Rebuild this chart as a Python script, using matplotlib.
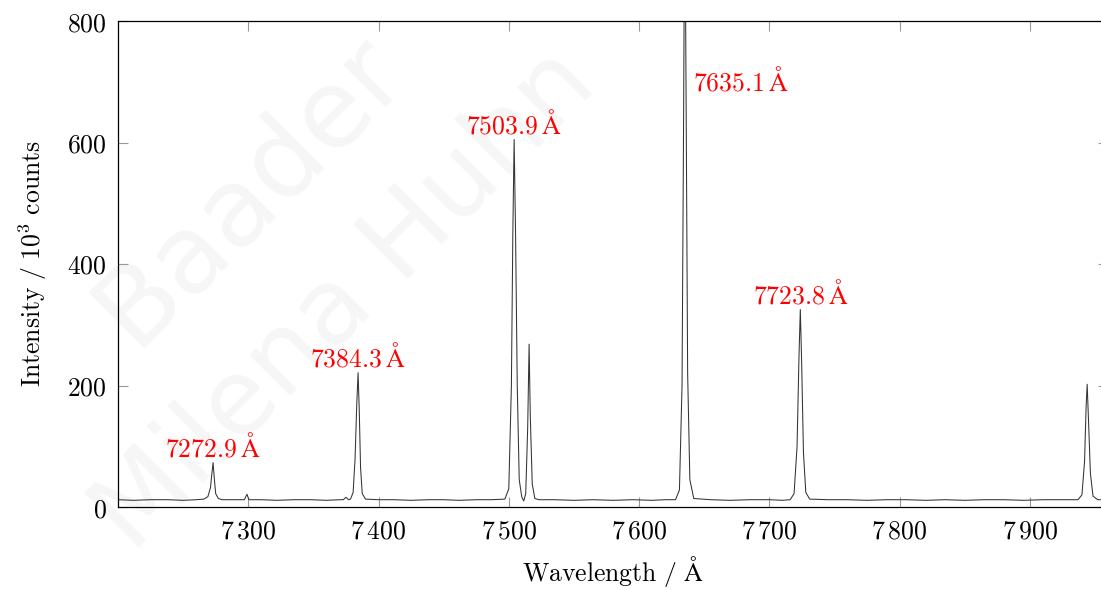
import matplotlib
matplotlib.use("Agg")
import matplotlib.pyplot as plt
from matplotlib.ticker import FuncFormatter

plt.rcParams['mathtext.fontset'] = 'cm'
plt.rcParams['font.family'] = ['DejaVu Sans']

# spectrum: wavelength in Angstrom, intensity in 10^3 counts
wavelength = [
    7200, 7212, 7225, 7238, 7250, 7260, 7266, 7269, 7271, 7272.3, 7273, 7274, 7275, 7277, 7280,
    7288, 7297, 7299, 7300.5, 7310, 7322, 7335, 7348, 7360, 7370, 7373, 7375, 7377,
    7378.5, 7380.5, 7382, 7383.3, 7384.3, 7385.2, 7386.2, 7387.5, 7390,
    7400, 7412, 7425, 7438, 7450, 7462, 7475, 7487,
    7497, 7500, 7502, 7503.1, 7504.1, 7505.2, 7506.5, 7508, 7510, 7511.5,
    7513, 7514.5, 7515.6, 7516.5, 7518, 7520, 7523,
    7535, 7550, 7565, 7580, 7595, 7610, 7620, 7628,
    7631, 7633, 7634.2, 7635.1, 7636.1, 7637.3, 7639, 7642,
    7655, 7670, 7685, 7700, 7710, 7716,
    7719, 7721.3, 7722.8, 7723.8, 7724.8, 7726.2, 7728, 7731,
    7745, 7760, 7775, 7790, 7805, 7820, 7835, 7850, 7865, 7880, 7895, 7910, 7925, 7937,
    7940, 7942, 7943.2, 7944, 7945, 7946.5, 7948.5, 7952, 7960,
]
intensity = [
    12, 11, 12, 12, 11, 12, 13, 17, 32, 60, 73, 45, 22, 14, 12,
    12, 12, 21, 12, 12, 11, 12, 12, 11, 12, 12, 16, 12,
    13, 24, 80, 170, 221, 160, 65, 22, 13,
    12, 12, 11, 12, 12, 11, 12, 12,
    13, 30, 200, 450, 605, 450, 200, 45, 16, 10,
    22, 130, 268, 150, 38, 14, 12,
    12, 11, 12, 11, 12, 11, 12, 12,
    28, 200, 640, 1050, 680, 220, 45, 14,
    12, 11, 12, 12, 11, 12,
    22, 100, 250, 325, 240, 90, 24, 13,
    12, 12, 11, 12, 12, 11, 12, 11, 12, 12, 11, 12, 12, 12,
    20, 75, 165, 202, 145, 55, 18, 12, 12,
]

line_wl = [7272.9, 7384.3, 7503.9, 7635.1, 7723.8]
line_int = [73, 221, 605, 700, 325]
line_labels = ["7272.9", "7384.3", "7503.9", "7635.1", "7723.8"]

xticks = [7300, 7400, 7500, 7600, 7700, 7800, 7900]
yticks = [0, 200, 400, 600, 800]

fig = plt.figure(figsize=(11.01, 5.90), dpi=100)
ax = fig.add_axes([118 / 1101, 1 - 507 / 590, (1108 - 118) / 1101, (507 - 21) / 590])

# faint watermark behind the plot
fig.text(250 / 1101, 1 - 190 / 590, "Baader", rotation=45, fontsize=78, color="#f6f6f6",
         ha="center", va="center", zorder=-10)
fig.text(345 / 1101, 1 - 300 / 590, "Milena Huhn", rotation=45, fontsize=76, color="#f6f6f6",
         ha="center", va="center", zorder=-10)
ax.patch.set_alpha(0)

ax.plot(wavelength, intensity, color="#333333", lw=0.75)

for wl, y, lab in zip(line_wl, line_int, line_labels):
    txt = r"$\mathrm{" + lab + r"\,\AA}$"
    if lab == "7635.1":
        ax.annotate(txt, (wl, y), xytext=(6, 0), textcoords="offset points",
                    ha="left", va="center", color="red", fontsize=18.5)
    else:
        ax.annotate(txt, (wl, y), xytext=(0, 0), textcoords="offset points",
                    ha="center", va="bottom", color="red", fontsize=18.5)

ax.set_xlim(7200, 7960)
ax.set_ylim(0, 800)
ax.set_xticks(xticks)
ax.set_yticks(yticks)
ax.xaxis.set_major_formatter(FuncFormatter(
    lambda v, p: r"$%d\,%03d$" % (int(v) // 1000, int(v) % 1000)))
ax.yaxis.set_major_formatter(FuncFormatter(lambda v, p: r"$%d$" % v))
ax.tick_params(direction="in", length=7.5, width=0.8, color="#999999",
               top=True, right=True, labelsize=18.5, pad=8)
for s in ax.spines.values():
    s.set_linewidth(0.9)
    s.set_color("black")

ax.set_xlabel(r"$\mathrm{Wavelength\ /\ \AA}$", fontsize=18.5, labelpad=7)
ax.set_ylabel(r"$\mathrm{Intensity\ /\ 10^3\ counts}$", fontsize=18.5, labelpad=13)

fig.savefig("out.png", dpi=100)
